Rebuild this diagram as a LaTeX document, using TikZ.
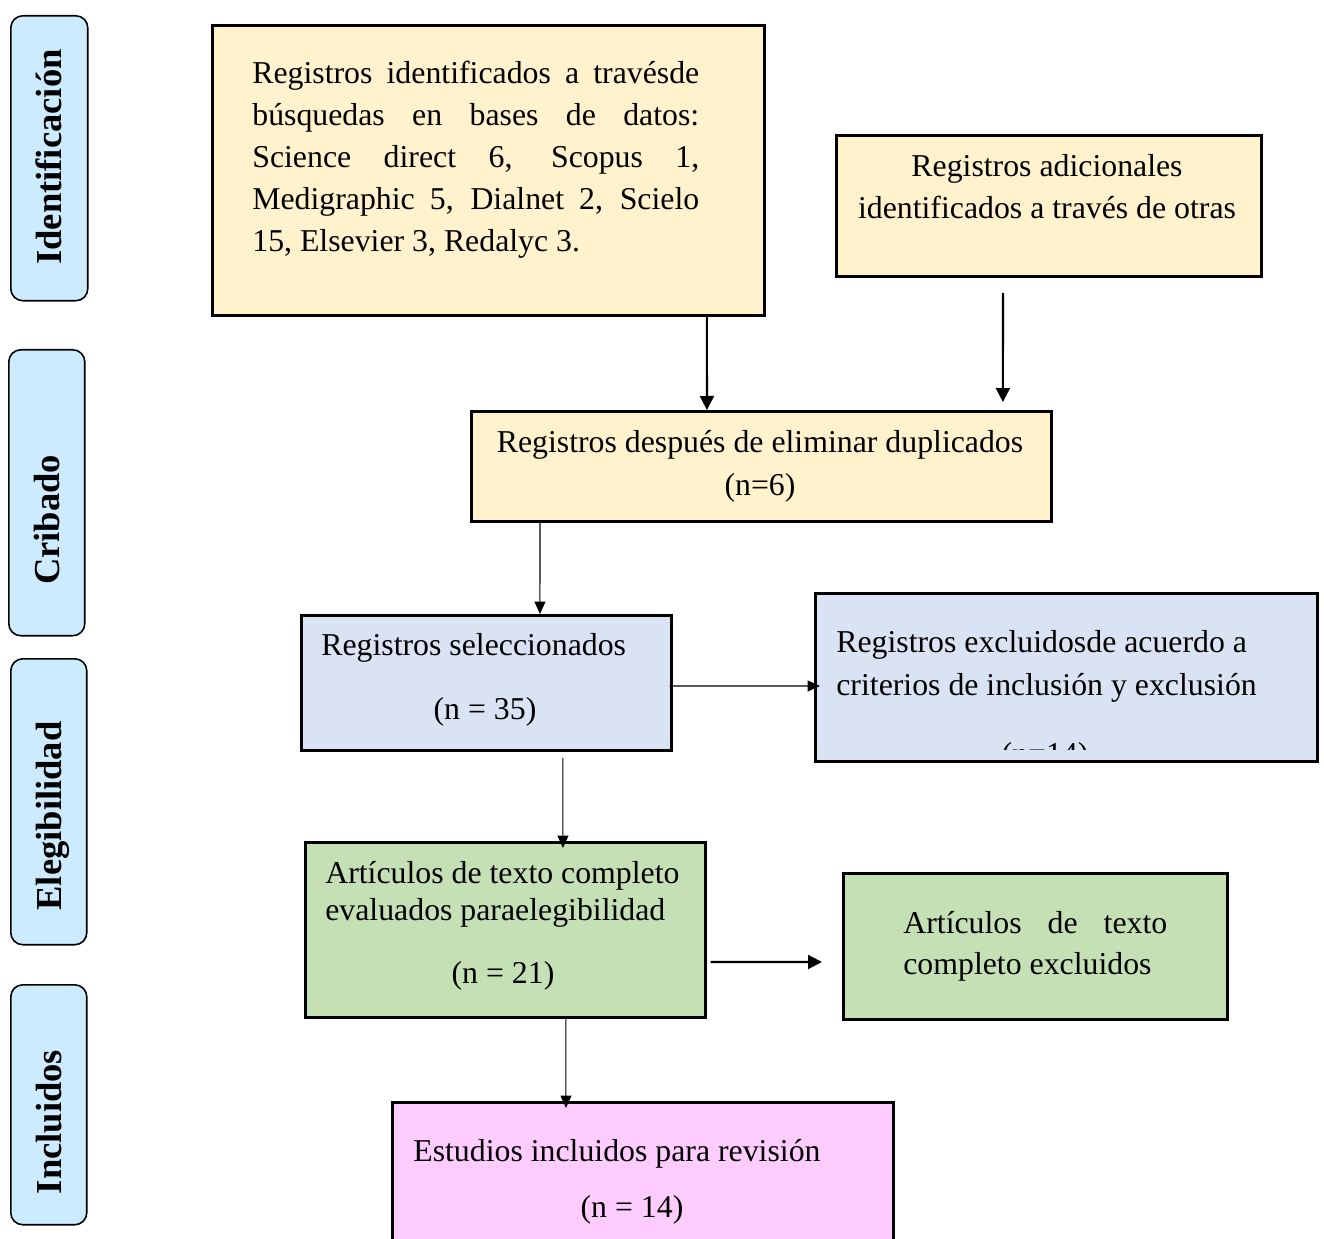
\documentclass[tikz,border=0pt]{standalone}
\usepackage{fontspec}
\setmainfont{Liberation Serif}
\usetikzlibrary{arrows.meta}
\definecolor{yel}{HTML}{FFF2CC}
\definecolor{blu}{HTML}{DAE3F3}
\definecolor{grn}{HTML}{C5E0B4}
\definecolor{pnk}{HTML}{FFCCFF}
\definecolor{sid}{HTML}{CCEBFF}
\tikzset{
  box/.style={draw=black, line width=1.6pt, anchor=north west, inner sep=0pt},
  sidebox/.style={draw=black, line width=0.9pt, rounded corners=0.24cm, fill=sid, anchor=north west, inner sep=0pt},
  sidelabel/.style={rotate=90, anchor=base, inner sep=0pt, font=\fontsize{20.8}{25}\selectfont\bfseries},
  txt/.style={inner sep=0pt, font=\fontsize{18.1}{23.8}\selectfont},
  thickarr/.style={line width=1.2pt, -{Triangle[length=0.28cm,width=0.28cm]}},
  thinarr/.style={line width=0.6pt, -{Triangle[length=0.25cm,width=0.22cm]}}
}
\begin{document}
\begin{tikzpicture}[x=0.02cm, y=-0.02cm]
\useasboundingbox (0,0) rectangle (1324,1239);
% side labels
\node[sidebox, minimum width=1.54cm, minimum height=5.7cm] (S1) at (10,15) {};
\node[sidebox, minimum width=1.52cm, minimum height=5.72cm] (S2) at (8,349) {};
\node[sidebox, minimum width=1.52cm, minimum height=5.72cm] (S3) at (10,658) {};
\node[sidebox, minimum width=1.52cm, minimum height=4.8cm] (S4) at (10,984) {};
\node[sidelabel] (L1) at (61,157) {Identificación};
\node[sidelabel] (L2) at (59,520) {Cribado};
\node[sidelabel] (L3) at (61,816) {Elegibilidad};
\node[sidelabel] (L4) at (61,1122) {Incluidos};
% boxes
\node[box, fill=yel, minimum width=11.04cm, minimum height=5.8cm] (A) at (211,24) {};
\node[box, fill=yel, minimum width=8.5cm, minimum height=2.82cm] (B) at (835,134) {};
\node[box, fill=yel, minimum width=11.6cm, minimum height=2.2cm] (C) at (470,410) {};
\node[box, fill=blu, minimum width=7.4cm, minimum height=2.7cm] (D) at (300,614) {};
\node[box, fill=blu, minimum width=10.04cm, minimum height=3.36cm] (E) at (814,592) {};
\node[box, fill=grn, minimum width=8.0cm, minimum height=3.5cm] (F) at (304,841) {};
\node[box, fill=grn, minimum width=7.68cm, minimum height=2.92cm] (G) at (842,872) {};
\node[box, fill=pnk, minimum width=10.02cm, minimum height=3.2cm] (H) at (391,1101) {};
% texts
\node[txt, anchor=base west] (tA) at (252,84) {\parbox[t]{8.94cm}{\fontsize{18.1}{23.8}\selectfont\setlength{\parfillskip}{0pt plus 1fil}Registros identificados a travésde\linebreak búsquedas en bases de datos:\linebreak Science direct 6, Scopus 1,\linebreak Medigraphic 5, Dialnet 2, Scielo\linebreak 15, Elsevier 3, Redalyc 3.}};
\node[txt, anchor=base] (tB1) at (1047,177) {Registros adicionales};
\node[txt, anchor=base] (tB2) at (1047,219) {identificados a través de otras};
\node[txt, anchor=base] (tC1) at (760,453) {Registros después de eliminar duplicados};
\node[txt, anchor=base] (tC2) at (760,496) {(n=6)};
\node[txt, anchor=base west] (tD1) at (321,655) {Registros seleccionados};
\node[txt, anchor=base] (tD2) at (485,719) {(n = 35)};
\node[txt, anchor=base west] (tE1) at (836,652) {Registros excluidosde acuerdo a};
\node[txt, anchor=base west] (tE2) at (836,695) {criterios de inclusión y exclusión};
\begin{scope}
\clip (816,594) rectangle (1314,749);
\node[txt, anchor=base] (tE3) at (1045,764) {(n=14)};
\end{scope}
\node[txt, anchor=base west] (tF1) at (325,883) {Artículos de texto completo};
\node[txt, anchor=base west] (tF2) at (325,920) {evaluados paraelegibilidad};
\node[txt, anchor=base] (tF3) at (503,983) {(n = 21)};
\node[txt, anchor=base west] (tG) at (903,933) {\parbox[t]{5.28cm}{\fontsize{18.1}{23.8}\selectfont Artículos de texto\linebreak completo excluidos}};
\node[txt, anchor=base west] (tH1) at (413,1161) {Estudios incluidos para revisión};
\node[txt, anchor=base] (tH2) at (632,1217) {(n = 14)};
% connectors
\draw[thickarr] ([xshift=9.92cm]A.south west) -- ([xshift=4.74cm]C.north west);
\draw[thickarr] ([xshift=3.36cm,yshift=-0.3cm]B.south west) -- ([xshift=10.66cm,yshift=0.16cm]C.north west);
\draw[thinarr] ([xshift=1.4cm]C.south west) -- ([xshift=4.8cm]D.north west);
\draw[thinarr] ([xshift=-0.06cm,yshift=-1.44cm]D.north east) -- ([xshift=0.12cm,yshift=-1.88cm]E.north west);
\draw[thinarr] ([xshift=5.26cm,yshift=-0.12cm]D.south west) -- ([xshift=5.18cm,yshift=-0.14cm]F.north west);
\draw[thickarr] ([xshift=0.08cm,yshift=-2.42cm]F.north east) -- ([xshift=-0.4cm,yshift=-1.8cm]G.north west);
\draw[thinarr] ([xshift=5.24cm]F.south west) -- ([xshift=3.5cm,yshift=-0.14cm]H.north west);
\end{tikzpicture}
\end{document}
